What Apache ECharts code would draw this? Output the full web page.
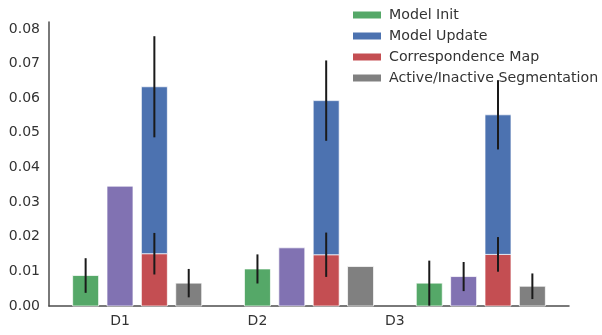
<!DOCTYPE html>
<html>
<head>
<meta charset="utf-8">
<script src="https://cdn.jsdelivr.net/npm/echarts@6/dist/echarts.min.js"></script>
<style>html,body{margin:0;padding:0;background:#fff;}#c{width:602px;height:335px;}</style>
</head>
<body>
<div id="c"></div>
<script>
// ---- data ----
const categories = ['D1', 'D2', 'D3'];
const labelPositions = [1, 5, 9];          // where the tick labels sit (slot units)
const yTicks = [0, 0.01, 0.02, 0.03, 0.04, 0.05, 0.06, 0.07, 0.08];

const modelInit = [0.0088, 0.0107, 0.0066];
const modelInitErr = [0.0050, 0.0042, 0.0065];

const extra = [0.0346, 0.0168, 0.0085];          // purple, not in legend
const extraErr = [null, null, 0.0042];

const corrMap = [0.0151, 0.0148, 0.0149];
const corrMapErr = [0.0060, 0.0064, 0.0050];

const modelUpdate = [0.0482, 0.0445, 0.0403];    // stacked on top of corrMap
const modelUpdateErr = [0.0146, 0.0116, 0.0100];

const segmentation = [0.0066, 0.0114, 0.0057];
const segmentationErr = [0.0041, null, 0.0037];

// ---- layout helpers ----
const SLOTS_PER_GROUP = 5;
const HALF_W = 0.378;
function slot(g, k) { return g * SLOTS_PER_GROUP + k; }

function barData(k, vals, base) {
  return vals.map((v, g) => {
    const b = base ? base[g] : 0;
    return [slot(g, k), b, b + v];
  });
}
function renderBar(params, api) {
  const x = api.value(0), b = api.value(1), t = api.value(2);
  const p0 = api.coord([x - HALF_W, t]);
  const p1 = api.coord([x + HALF_W, b]);
  return {
    type: 'rect',
    shape: { x: p0[0], y: p0[1], width: p1[0] - p0[0], height: p1[1] - p0[1] },
    style: { fill: api.visual('color'), stroke: 'rgba(255,255,255,0.7)', lineWidth: 1 }
  };
}
const errData = [];
function addErr(k, vals, errs, base) {
  vals.forEach((v, g) => {
    if (errs[g] == null) return;
    const c = (base ? base[g] : 0) + v;
    errData.push([slot(g, k), c - errs[g], c + errs[g]]);
  });
}
const totalRed = corrMap;
addErr(0, modelInit, modelInitErr);
addErr(1, extra, extraErr);
addErr(2, corrMap, corrMapErr);
addErr(2, modelUpdate, modelUpdateErr, totalRed);
addErr(3, segmentation, segmentationErr);

const colors = { green: '#55A868', blue: '#4C72B0', red: '#C44E52', purple: '#8172B2', gray: '#808080' };

function barSeries(name, color, data) {
  return {
    type: 'custom', name: name, renderItem: renderBar,
    itemStyle: { color: color },
    encode: { x: 0, y: [1, 2] }, data: data, z: 2
  };
}

const chart = echarts.init(document.getElementById('c'), null, { renderer: 'canvas' });
chart.setOption({
  animation: false,
  backgroundColor: '#fff',
  grid: { left: 49, right: 33, top: 22, bottom: 29 },
  legend: {
    data: ['Model Init', 'Model Update', 'Correspondence Map', 'Active/Inactive Segmentation'],
    orient: 'vertical', left: 348, top: 3,
    itemWidth: 28, itemHeight: 7, itemGap: 7, icon: 'rect',
    textStyle: { fontFamily: 'DejaVu Sans', fontSize: 14.2, color: '#333333', lineHeight: 14, padding: [0, 0, 0, 3] }
  },
  xAxis: {
    type: 'value', min: -1.066, max: 14.066,
    axisLine: { show: true, onZero: false, lineStyle: { color: '#4d4d4d', width: 1.5 } },
    axisTick: { show: false },
    splitLine: { show: false },
    axisLabel: {
      customValues: labelPositions,
      formatter: v => categories[labelPositions.indexOf(Math.round(v))] || '',
      fontFamily: 'DejaVu Sans', fontSize: 14, color: '#333333', margin: 8
    }
  },
  yAxis: {
    type: 'value', min: 0, max: 0.082,
    axisLine: { show: true, onZero: false, lineStyle: { color: '#4d4d4d', width: 1.5 } },
    axisTick: { show: false },
    splitLine: { show: false },
    axisLabel: {
      customValues: yTicks,
      formatter: v => v.toFixed(2),
      fontFamily: 'DejaVu Sans', fontSize: 14, color: '#333333', margin: 9
    }
  },
  series: [
    barSeries('Model Init', colors.green, barData(0, modelInit)),
    barSeries('extra', colors.purple, barData(1, extra)),
    barSeries('Correspondence Map', colors.red, barData(2, corrMap)),
    barSeries('Model Update', colors.blue, barData(2, modelUpdate, totalRed)),
    barSeries('Active/Inactive Segmentation', colors.gray, barData(3, segmentation)),
    {
      type: 'custom', name: 'err', z: 5,
      encode: { x: 0, y: [1, 2] },
      data: errData,
      renderItem: function (params, api) {
        const x = api.value(0);
        const a = api.coord([x, api.value(1)]);
        const b = api.coord([x, api.value(2)]);
        return { type: 'line', shape: { x1: a[0], y1: a[1], x2: b[0], y2: b[1] },
                 style: { stroke: '#1a1a1a', lineWidth: 2 } };
      }
    }
  ]
});
</script>
</body>
</html>
